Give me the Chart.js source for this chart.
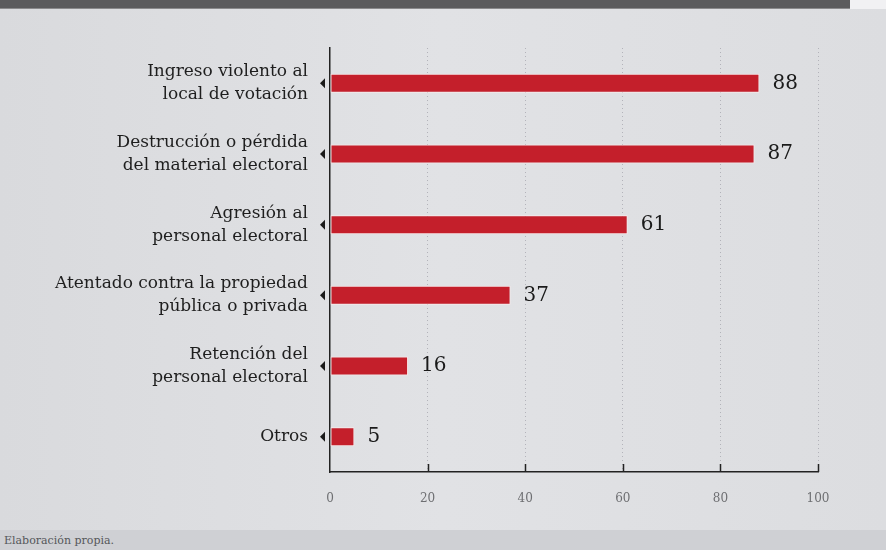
<!DOCTYPE html>
<html>
<head>
<meta charset="utf-8">
<script src="https://cdn.jsdelivr.net/npm/chart.js@4.4.1/dist/chart.umd.min.js"></script>
<style>
  html, body { margin: 0; padding: 0; }
  body {
    width: 886px; height: 550px; position: relative; overflow: hidden;
    background: linear-gradient(90deg, #d9dadd 0%, #e1e2e5 50%, #dcdde0 100%);
    font-family: "DejaVu Serif", serif;
  }
  .barra-top { position: absolute; left: 0; top: 0; width: 850px; height: 8px; background: #5b5b5d; border-bottom: 1px solid #8a8a8c; }
  .barra-top-fin { position: absolute; left: 850px; top: 0; width: 36px; height: 9px; background: #f1f1f3; }
  .pie { position: absolute; left: 0; top: 530px; width: 886px; height: 20px; background: #cfd0d4; }
  .pie span { position: absolute; left: 4px; top: 4px; font-size: 11px; color: #55575a; }
  #cont { position: absolute; left: 0; top: 0; width: 886px; height: 550px; }
</style>
</head>
<body>
<div class="barra-top"></div>
<div class="barra-top-fin"></div>
<div class="pie"><span>Elaboración propia.</span></div>
<div id="cont"><canvas id="grafico"></canvas></div>
<script>
// datos
const categorias = [
  ["Ingreso violento al", "local de votación"],
  ["Destrucción o pérdida", "del material electoral"],
  ["Agresión al", "personal electoral"],
  ["Atentado contra la propiedad", "pública o privada"],
  ["Retención del", "personal electoral"],
  ["Otros"]
];
const valores = [88, 87, 61, 37, 16, 5];
const ticksX = [0, 20, 40, 60, 80, 100];

const fuente = "'DejaVu Serif', serif";

// etiquetas de valor al final de cada barra
const etiquetasValor = {
  id: "etiquetasValor",
  afterDatasetsDraw(chart) {
    const ctx = chart.ctx;
    const meta = chart.getDatasetMeta(0);
    ctx.save();
    ctx.font = "20px " + fuente;
    ctx.fillStyle = "#1a1a1a";
    ctx.textBaseline = "middle";
    meta.data.forEach((barra, i) => {
      ctx.fillText(String(valores[i]), barra.x + 13, barra.y);
    });
    ctx.restore();
  }
};

// marcas del eje x hacia arriba y triangulitos del eje y
const marcasEjes = {
  id: "marcasEjes",
  afterDraw(chart) {
    const ctx = chart.ctx;
    const sx = chart.scales.x;
    const sy = chart.scales.y;
    const abajo = chart.chartArea.bottom;
    ctx.save();
    ctx.strokeStyle = "#222";
    ctx.lineWidth = 1.5;
    ticksX.forEach((v) => {
      if (v === 0) return;
      const x = Math.round(sx.getPixelForValue(v)) + 0.5;
      ctx.beginPath();
      ctx.moveTo(x, abajo);
      ctx.lineTo(x, abajo - 8);
      ctx.stroke();
    });
    ctx.fillStyle = "#1a1a1a";
    categorias.forEach((c, i) => {
      const y = sy.getPixelForValue(i);
      const x = chart.chartArea.left - 5;
      ctx.beginPath();
      ctx.moveTo(x - 5, y);
      ctx.lineTo(x, y - 5);
      ctx.lineTo(x, y + 5);
      ctx.closePath();
      ctx.fill();
    });
    ctx.restore();
  }
};

const ctx = document.getElementById("grafico").getContext("2d");
new Chart(ctx, {
  type: "bar",
  data: {
    labels: categorias,
    datasets: [{
      data: valores,
      backgroundColor: "#c41f2b",
      borderColor: "rgba(255,235,235,0.9)",
      borderWidth: 1,
      borderSkipped: false,
      barPercentage: 0.27,
      categoryPercentage: 1
    }]
  },
  options: {
    indexAxis: "y",
    responsive: true,
    maintainAspectRatio: false,
    animation: false,
    layout: { padding: { top: 48, right: 68, left: 0, bottom: 0 } },
    plugins: { legend: { display: false }, tooltip: { enabled: false } },
    scales: {
      x: {
        min: 0, max: 100,
        afterBuildTicks(scale) { scale.ticks = ticksX.map((v) => ({ value: v })); },
        afterFit(scale) { scale.height = 78; },
        grid: {
          color: (c) => (c.tick && c.tick.value === 0 ? "rgba(0,0,0,0)" : "rgba(160,160,168,0.7)"),
          lineWidth: 1,
          drawTicks: false
        },
        border: { color: "#222", width: 1.5, dash: [1, 3] },
        ticks: {
          padding: 20,
          color: "#6e6f72",
          font: { family: fuente, size: 12 }
        }
      },
      y: {
        afterFit(scale) { scale.width = 330; },
        grid: { display: false, drawTicks: false },
        border: { color: "#222", width: 1.5 },
        ticks: {
          padding: 22,
          color: "#1e1e1e",
          font: { family: fuente, size: 17, lineHeight: 1.36 }
        }
      }
    }
  },
  plugins: [etiquetasValor, marcasEjes]
});
</script>
</body>
</html>
